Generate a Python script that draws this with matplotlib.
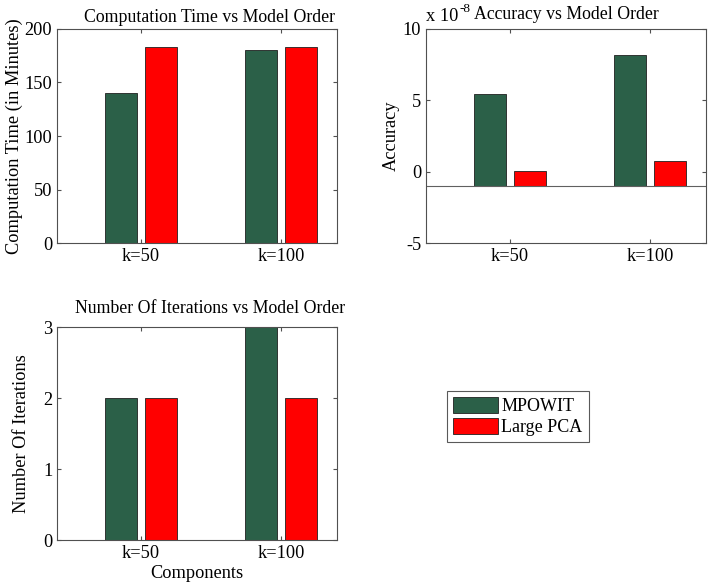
import numpy as np
import matplotlib
matplotlib.use('Agg')
import matplotlib.pyplot as plt

plt.rcParams['font.family'] = ['Liberation Serif', 'DejaVu Serif']
plt.rcParams['axes.unicode_minus'] = False

# data
categories = ['k=50', 'k=100']
series = ['MPOWIT', 'Large PCA']
comp_time_mpowit = [140, 180]
comp_time_pca = [183.5, 183.5]
accuracy_mpowit = [5.45, 8.15]   # x 1e-8
accuracy_pca = [0.03, 0.72]      # x 1e-8
accuracy_base = -1.0
iters_mpowit = [2, 3]
iters_pca = [2, 2]

green = '#2b6048'
red = '#ff0000'
spine_col = '#505050'
fs = 13.2
tfs = 12.8

fig = plt.figure(figsize=(7.08, 5.88), dpi=100)
ax1 = fig.add_axes([0.0805, 0.5867, 0.3955, 0.364])
ax2 = fig.add_axes([0.6017, 0.5867, 0.3955, 0.364])
ax3 = fig.add_axes([0.0805, 0.0816, 0.3955, 0.362])

x = np.arange(1, len(categories) + 1)
w = 0.232
off = 0.143


def style(ax):
    ax.set_xlim(0.4, 2.4)
    ax.set_xticks(x)
    ax.set_xticklabels(categories)
    ax.tick_params(direction='in', length=3, top=True, right=True,
                   labelsize=fs, color=spine_col, width=0.8)
    for s in ax.spines.values():
        s.set_color(spine_col)
        s.set_linewidth(0.8)


# Computation time
ax1.bar(x - off, comp_time_mpowit, w, color=green, edgecolor='#202020', linewidth=0.6, label=series[0])
ax1.bar(x + off, comp_time_pca, w, color=red, edgecolor='#202020', linewidth=0.6, label=series[1])
style(ax1)
ax1.set_ylim(0, 200)
ax1.set_yticks([0, 50, 100, 150, 200])
ax1.set_title('Computation Time vs Model Order', fontsize=tfs, pad=5, x=0.543)
ax1.set_ylabel('Computation Time (in Minutes)', fontsize=fs, labelpad=1)

# Accuracy
acc_m = np.array(accuracy_mpowit) - accuracy_base
acc_p = np.array(accuracy_pca) - accuracy_base
ax2.bar(x - off, acc_m, w, bottom=accuracy_base, color=green, edgecolor='#202020', linewidth=0.6)
ax2.bar(x + off, acc_p, w, bottom=accuracy_base, color=red, edgecolor='#202020', linewidth=0.6)
ax2.axhline(accuracy_base, color='#606060', linewidth=0.8)
style(ax2)
ax2.set_ylim(-5, 10)
ax2.set_yticks([-5, 0, 5, 10])
ax2.set_title('Accuracy vs Model Order', fontsize=tfs, pad=7)
ax2.set_ylabel('Accuracy', fontsize=fs, labelpad=2)
t10 = ax2.text(0.0, 1.02, 'x 10', transform=ax2.transAxes,
               fontsize=fs, ha='left', va='bottom')
ax2.annotate('-8', xy=(1, 0.6), xycoords=t10, xytext=(0.5, 0), textcoords='offset points',
             fontsize=9.5, ha='left', va='bottom')

# Iterations
ax3.bar(x - off, iters_mpowit, w, color=green, edgecolor='#202020', linewidth=0.6)
ax3.bar(x + off, iters_pca, w, color=red, edgecolor='#202020', linewidth=0.6)
style(ax3)
ax3.set_ylim(0, 3)
ax3.set_yticks([0, 1, 2, 3])
ax3.set_title('Number Of Iterations vs Model Order', fontsize=tfs, pad=10, x=0.546)
ax3.set_ylabel('Number Of Iterations', fontsize=fs, labelpad=9)
ax3.set_xlabel('Components', fontsize=fs, labelpad=2)

h, l = ax1.get_legend_handles_labels()
leg = fig.legend(h, l, loc='upper left', bbox_to_anchor=(447 / 708, 1 - 391 / 588),
                 fontsize=13, fancybox=False, handlelength=2.45, handleheight=0.95,
                 labelspacing=0.15, borderpad=0.35, handletextpad=0.2, borderaxespad=0)
leg.get_frame().set_edgecolor('#303030')
leg.get_frame().set_linewidth(0.8)

fig.savefig('out.png', dpi=100)
